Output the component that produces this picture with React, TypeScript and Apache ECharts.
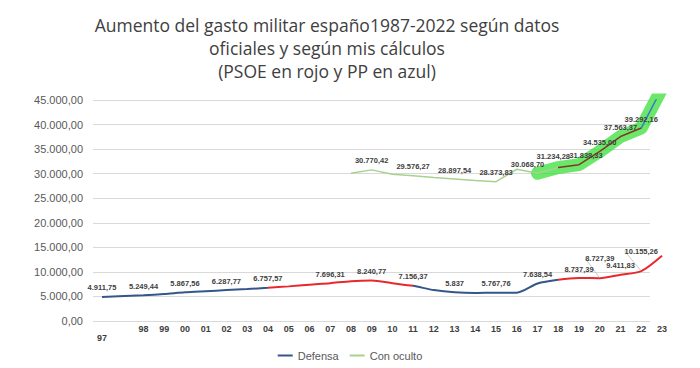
import React, { useEffect, useRef } from "react";
import * as echarts from "echarts";

const categories = ["97", "", "98", "99", "00", "01", "02", "03", "04", "05", "06", "07", "08", "09", "10", "11", "12", "13", "14", "15", "16", "17", "18", "19", "20", "21", "22", "23"];

const defensa = [4911.75, null, 5249.44, 5500, 5867.56, 6080, 6287.77, 6500, 6757.57, 7050, 7400, 7696.31, 8100, 8240.77, 7700, 7156.37, 6300, 5837, 5700, 5767.76, 5760, 7638.54, 8400, 8737.39, 8727.39, 9411.83, 10155.26, 13300];
const defensaLabels = ["4.911,75", null, "5.249,44", null, "5.867,56", null, "6.287,77", null, "6.757,57", null, null, "7.696,31", null, "8.240,77", null, "7.156,37", null, "5.837", null, "5.767,76", null, "7.638,54", null, "8.737,39", "8.727,39", "9.411,83", "10.155,26", null];
const defensaRaised = [24, 26];

const conOculto = [null, null, null, null, null, null, null, null, null, null, null, null, 30100, 30770.42, 29900, 29576.27, 29200, 28897.54, 28600, 28373.83, 30900, 30068.7, 31234.28, 31838.33, 34535.0, 37563.37, 39292.16, 47400];
const conOcultoLabels = [null, null, null, null, null, null, null, null, null, null, null, null, null, "30.770,42", null, "29.576,27", null, "28.897,54", null, "28.373,83", null, "30.068,70", "31.234,28", "31.838,33", "34.535,00", "37.563,37", "39.292,16", null];
const highlightFrom = 21;

const yTicksMax = 45000;
const yInterval = 5000;

const BLUE = "#34568B";
const RED = "#E8282B";
const GREEN = "#A9D18E";
const BROWN = "#7E3A22";
const BAND = "rgba(50,222,50,0.72)";
const LINEBLUE = "#3A7BBF";

function esNum(v: number) {
  const [i, d] = v.toFixed(2).split(".");
  return i.replace(/\B(?=(\d{3})+(?!\d))/g, ".") + "," + d;
}

const cLabelShift: Record<number, { dx: number; dy: number }> = {
  21: { dx: -10, dy: 0 },
  22: { dx: -5, dy: -2 },
  23: { dx: 7, dy: 0 },
};

export default function App() {
  const ref = useRef<HTMLDivElement>(null);
  useEffect(() => {
    const chart = echarts.init(ref.current!, null, { renderer: "svg" });
    const labelStyle = { fontSize: 7.5, color: "#404040", fontWeight: "bold" as const, fontFamily: "Liberation Sans" };
    const defData = defensa.map((v, i) =>
      v == null
        ? "-"
        : {
            value: v,
            label: { show: !!defensaLabels[i] },
            labelLine: { show: defensaRaised.includes(i) },
          }
    );
    const cData = conOculto.map((v, i) => (v == null ? "-" : { value: v, label: { show: !!conOcultoLabels[i] } }));
    const bandData = conOculto.map((v, i) => (v == null || i < highlightFrom ? "-" : v));
    chart.setOption({
      animation: false,
      title: {
        text: "Aumento del gasto militar españo1987-2022 según datos\noficiales y según mis cálculos\n(PSOE en rojo y PP en azul)",
        left: 322,
        top: 8,
        textAlign: "center",
        textStyle: { fontSize: 17.5, fontWeight: "normal", color: "#404040", lineHeight: 23, fontFamily: "Open Sans" },
      },
      legend: {
        data: [
          { name: "Defensa", itemStyle: { color: BLUE }, lineStyle: { color: BLUE } },
          { name: "Con oculto", itemStyle: { color: GREEN }, lineStyle: { color: GREEN } },
        ],
        left: "center",
        top: 345,
        icon: "rect",
        itemWidth: 15,
        itemHeight: 2,
        itemGap: 11,
        textStyle: { fontSize: 11, color: "#595959", fontFamily: "Liberation Sans" },
      },
      grid: [
        { left: 93, right: 50, top: 100, bottom: 47 },
        { left: 102, right: 38, top: 100, bottom: 47 },
      ],
      xAxis: [
        { type: "value", gridIndex: 0, show: false, min: 0, max: 1 },
        {
          type: "category",
          gridIndex: 1,
          data: categories,
          boundaryGap: false,
          axisLine: { show: false },
          axisTick: { show: false },
          axisLabel: {
            interval: 0,
            margin: 3,
            fontSize: 9,
            fontWeight: "bold",
            color: "#404040",
            fontFamily: "Liberation Sans",
            formatter: (v: string, i: number) => (i === 0 ? "{d|" + v + "}" : v),
            rich: { d: { padding: [9, 0, 0, 0], fontSize: 9, fontWeight: "bold", color: "#404040", fontFamily: "Liberation Sans" } },
          },
        },
      ],
      yAxis: [
        {
          type: "value",
          gridIndex: 0,
          min: 0,
          max: yTicksMax,
          interval: yInterval,
          axisLine: { show: false },
          axisTick: { show: false },
          axisLabel: { formatter: (v: number) => esNum(v), fontSize: 11, color: "#595959", margin: 10, fontFamily: "Liberation Sans" },
          splitLine: { lineStyle: { color: "#D9D9D9", width: 1 } },
        },
        { type: "value", gridIndex: 1, min: 0, max: yTicksMax, show: false, splitLine: { show: false } },
      ],
      visualMap: [
        {
          show: false,
          type: "piecewise",
          seriesIndex: 0,
          dimension: 0,
          pieces: [
            { lte: 8, color: BLUE },
            { gt: 8, lte: 15, color: RED },
            { gt: 15, lte: 22, color: BLUE },
            { gt: 22, color: RED },
          ],
        },
        {
          show: false,
          type: "piecewise",
          seriesIndex: 1,
          dimension: 0,
          pieces: [
            { lte: 22, color: GREEN },
            { gt: 22, lte: 26, color: BROWN },
            { gt: 26, color: LINEBLUE },
          ],
        },
      ],
      series: [
        {
          name: "Defensa",
          type: "line",
          xAxisIndex: 1,
          yAxisIndex: 1,
          data: defData,
          connectNulls: true,
          smooth: 0.25,
          symbol: "circle",
          symbolSize: 0,
          showSymbol: true,
          z: 5,
          lineStyle: { width: 2 },
          label: {
            position: "top",
            distance: 5,
            ...labelStyle,
            formatter: (p: any) => defensaLabels[p.dataIndex] ?? "",
          },
          labelLayout: (p: any) => (defensaRaised.includes(p.dataIndex) ? { dy: -11 } : {}),
          labelLine: { lineStyle: { color: "#A6A6A6", width: 0.6 } },
        },
        {
          name: "Con oculto",
          type: "line",
          xAxisIndex: 1,
          yAxisIndex: 1,
          data: cData,
          symbol: "circle",
          symbolSize: 0,
          showSymbol: true,
          z: 4,
          lineStyle: { width: 1.5 },
          label: {
            position: "top",
            distance: 5,
            ...labelStyle,
            formatter: (p: any) => conOcultoLabels[p.dataIndex] ?? "",
          },
          labelLayout: (p: any) => cLabelShift[p.dataIndex] ?? {},
        },
        {
          name: "band",
          type: "line",
          xAxisIndex: 1,
          yAxisIndex: 1,
          data: bandData,
          symbol: "none",
          z: 3,
          silent: true,
          lineStyle: { width: 13, color: BAND, cap: "round", join: "round" },
          itemStyle: { color: BAND },
        },
      ],
    });
    return () => chart.dispose();
  }, []);
  return <div ref={ref} style={{ position: "absolute", left: 0, top: 0, width: 700, height: 368, background: "#fff" }} />;
}
